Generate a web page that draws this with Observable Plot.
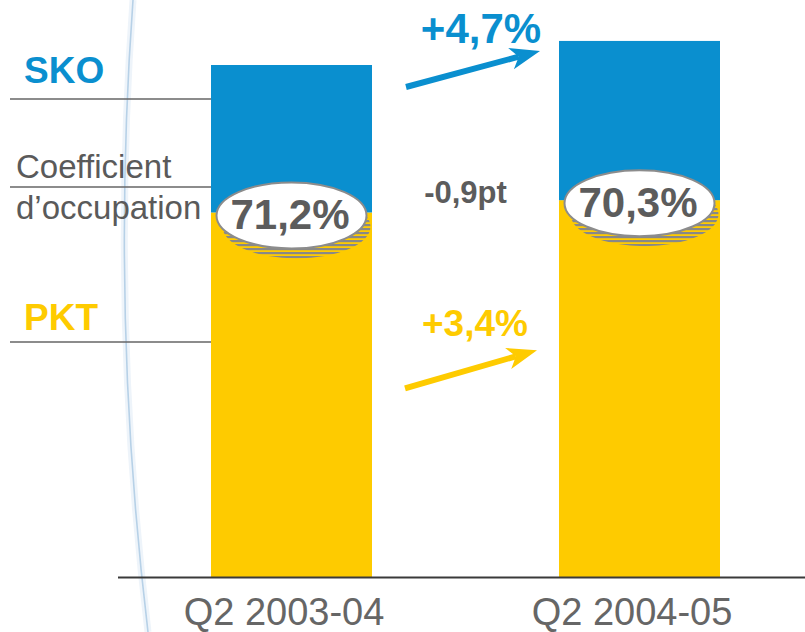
<!DOCTYPE html>
<html><head><meta charset="utf-8">
<script src="https://cdn.jsdelivr.net/npm/d3@7"></script>
<script src="https://cdn.jsdelivr.net/npm/@observablehq/plot@0.6"></script>
<style>body{margin:0;background:#fff}</style>
</head><body><div id="chart"></div>
<script>
// ---- data (index: SKO Q2 2003-04 = 100) ----
const periods = ["Q2 2003-04", "Q2 2004-05"];
const sko = [100, 104.7];
const pkt = [71.2, 73.6];
const loadFactor = ["71,2%", "70,3%"];
const growthSko = "+4,7%";
const growthPkt = "+3,4%";
const loadFactorChange = "-0,9pt";
const legendSko = "SKO";
const legendLf = ["Coefficient", "d’occupation"];
const legendPkt = "PKT";

const BLUE = "#0a8fcf", YELLOW = "#fecb00", DARK = "#5c5c5c", FONT = "'Liberation Sans', Arial, sans-serif";
const rows = periods.map((p, i) => ({period: p, sko: sko[i], pkt: pkt[i], lf: loadFactor[i]}));

function bw(scales) { return scales.x.bandwidth ? scales.x.bandwidth() : scales.scales.x.bandwidth; }

function decor() {
  const g = d3.create("svg:g");
  g.append("path").attr("d", "M133,0 Q110,316 148,632").attr("fill", "none").attr("stroke", "#eef4fa").attr("stroke-width", 7);
  g.append("path").attr("d", "M133,0 Q110,316 148,632").attr("fill", "none").attr("stroke", "#b7d1e7").attr("stroke-width", 1.6);
  return g.node();
}

function legend(index, scales) {
  const x0 = scales.x(periods[0]);
  const g = d3.create("svg:g").attr("font-family", FONT).attr("text-anchor", "start");
  [99, 187, 342].forEach(y => g.append("line").attr("x1", 10).attr("x2", x0).attr("y1", y).attr("y2", y).attr("stroke", "#666").attr("stroke-width", 1.6));
  g.append("text").attr("x", 24).attr("y", 83).attr("font-size", 37).attr("font-weight", "bold").attr("fill", BLUE).text(legendSko);
  g.append("text").attr("x", 16).attr("y", 178).attr("font-size", 33).attr("fill", "#5a5a5a").text(legendLf[0]);
  g.append("text").attr("x", 16).attr("y", 219).attr("font-size", 33).attr("fill", "#5a5a5a").text(legendLf[1]);
  g.append("text").attr("x", 24).attr("y", 330).attr("font-size", 37).attr("font-weight", "bold").attr("fill", YELLOW).text(legendPkt);
  return g.node();
}

function badges(index, scales) {
  const b = bw(scales);
  const g = d3.create("svg:g");
  const pat = g.append("defs").append("pattern").attr("id", "hatch").attr("patternUnits", "userSpaceOnUse").attr("width", 4).attr("height", 4);
  pat.append("rect").attr("x", 0).attr("y", 0).attr("width", 4).attr("height", 2.2).attr("fill", "#888");
  rows.forEach(r => {
    const cx = scales.x(r.period) + b / 2, cy = scales.y(r.pkt) + 3;
    g.append("ellipse").attr("cx", cx + 5).attr("cy", cy + 11).attr("rx", 74).attr("ry", 32).attr("fill", "url(#hatch)");
    g.append("ellipse").attr("cx", cx).attr("cy", cy).attr("rx", 75).attr("ry", 33).attr("fill", "#fff").attr("stroke", "#8c8c8c").attr("stroke-width", 2);
  });
  return g.node();
}

function arrow(g, x1, y1, x2, y2, color) {
  const dx = x2 - x1, dy = y2 - y1, L = Math.hypot(dx, dy), ux = dx / L, uy = dy / L, px = -uy, py = ux;
  const hl = 30, hw = 11, notch = 22;
  g.append("line").attr("x1", x1).attr("y1", y1).attr("x2", x2 - ux * notch).attr("y2", y2 - uy * notch).attr("stroke", color).attr("stroke-width", 6);
  const pts = [[x2, y2], [x2 - ux * hl + px * hw, y2 - uy * hl + py * hw], [x2 - ux * notch, y2 - uy * notch], [x2 - ux * hl - px * hw, y2 - uy * hl - py * hw]];
  g.append("polygon").attr("points", pts.map(p => p.join(",")).join(" ")).attr("fill", color);
}

function growth(index, scales) {
  const b = bw(scales);
  const xa = scales.x(periods[0]) + b + 34, xb = scales.x(periods[1]) - 19;
  const g = d3.create("svg:g").attr("font-family", FONT).attr("font-weight", "bold").attr("text-anchor", "middle");
  const s1 = scales.y(sko[0]) + 22, s2 = scales.y(sko[1]) + 10;
  arrow(g, xa, s1, xb, s2, BLUE);
  g.append("text").attr("x", (xa + xb) / 2 + 8).attr("y", s2 - 8).attr("font-size", 42).attr("fill", BLUE).text(growthSko);
  const p1 = scales.y(pkt[0]) + 176, p2 = scales.y(pkt[1]) + 150;
  arrow(g, xa - 1, p1, xb - 3, p2, YELLOW);
  g.append("text").attr("x", (xa + xb) / 2 + 2).attr("y", p2 - 14).attr("font-size", 37).attr("fill", YELLOW).text(growthPkt);
  const ym = (scales.y(pkt[0]) + scales.y(pkt[1])) / 2;
  g.append("text").attr("x", (scales.x(periods[0]) + scales.x(periods[1]) + b) / 2).attr("y", ym - 3).attr("font-size", 31).attr("fill", DARK).text(loadFactorChange);
  return g.node();
}

const chart = Plot.plot({
  width: 805, height: 632,
  marginLeft: 118, marginRight: 0, marginTop: 0, marginBottom: 55,
  style: {fontFamily: FONT, background: "#fff", overflow: "visible"},
  x: {domain: periods, range: [211, 720.5], paddingInner: 0.538, paddingOuter: 0, label: null},
  y: {domain: [0, 100], range: [577, 65], axis: null},
  marks: [
    decor,
    Plot.barY(rows, {x: "period", y1: 0, y2: "pkt", fill: YELLOW}),
    Plot.barY(rows, {x: "period", y1: "pkt", y2: "sko", fill: BLUE}),
    Plot.ruleY([0], {stroke: "#3a3a3a", strokeWidth: 2}),
    legend,
    badges,
    Plot.text(rows, {x: "period", y: "pkt", text: "lf", dy: 3, dx: -2, lineAnchor: "middle", fontSize: 42, fontWeight: "bold", fill: DARK}),
    growth,
    Plot.axisX({tickSize: 0, tickPadding: 21, fontSize: 38, fill: "#666", dx: -8, label: null})
  ]
});
document.getElementById("chart").append(chart);
</script>
</body></html>
